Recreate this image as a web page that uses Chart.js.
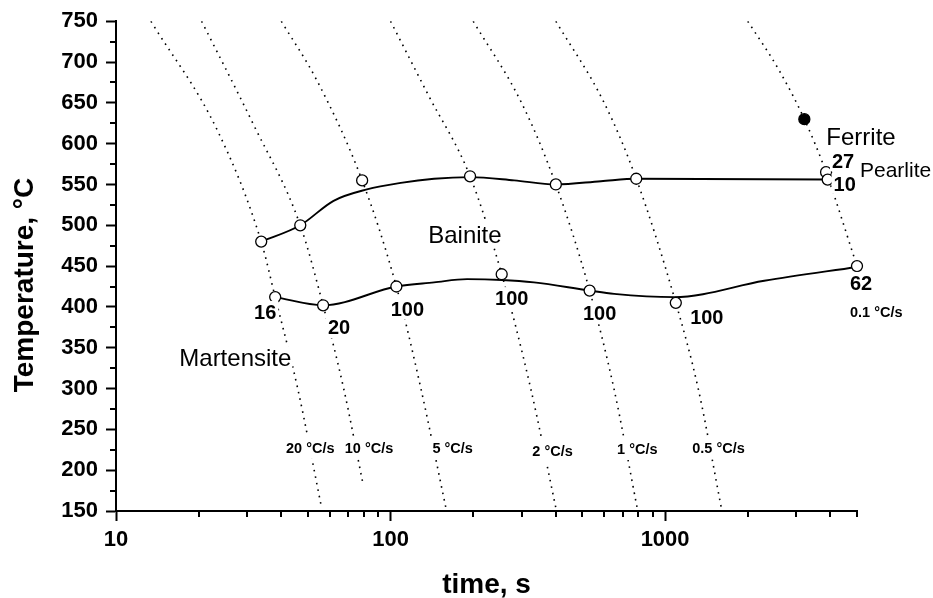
<!DOCTYPE html>
<html lang="en">
<head>
<meta charset="utf-8">
<title>CCT diagram</title>
<script src="https://cdn.jsdelivr.net/npm/chart.js@4"></script>
<style>
  html,body{margin:0;padding:0;background:#fff}
</style>
</head>
<body>
<canvas id="chart" width="933" height="598"></canvas>
<script>
// transformation points: time (s) and temperature (°C)
const bsTime = [33.8, 46.9, 78.8, 194.8, 400, 785, 3910];
const bsTemp = [480, 500, 555, 560, 550, 557, 556];
const bfTime = [38, 56.8, 105, 254, 531, 1094, 5000];
const bfTemp = [412, 402, 425, 440, 420, 405, 450];
const psTime = [3858];
const psTemp = [565];
const fsTime = [3215];
const fsTemp = [630];

// numbers printed next to the points
const bfNotes = ['16', '20', '100', '100', '100', '100', '62'];
const psNotes = ['27'];
const bsEndNote = '10';

// smoothed boundaries (bainite start / finish)
const bsCurveTime = [33.8, 46.9, 62, 82, 109, 144, 195, 282, 400, 584, 790, 3910];
const bsCurveTemp = [480, 500, 530, 544, 552, 557, 559, 555, 550, 554, 557, 556];
const bfCurveTime = [38, 56.8, 105, 144, 190, 254, 333, 531, 652, 1078, 2297, 5000];
const bfCurveTemp = [412, 402, 425, 430, 434, 433, 430, 420, 416, 412, 432, 449];

// cooling curves
const coolRates = ['20 °C/s', '10 °C/s', '5 °C/s', '2 °C/s', '1 °C/s', '0.5 °C/s', '0.1 °C/s'];
const coolTimes = [
  [13.4, 23.5, 33.8, 38, 45.9, 56],
  [20.5, 31.5, 46.9, 56.8, 67.5, 79.5],
  [40, 54, 78.8, 105, 129, 158.8],
  [100, 137, 194.8, 254, 324, 400],
  [200, 300, 400, 531, 651, 790],
  [400, 600, 785, 1094, 1320, 1600],
  [2000, 2600, 3215, 3858, 5000]
];
const coolTemps = [
  [750, 615, 480, 412, 300, 155],
  [750, 625, 500, 402, 300, 182],
  [750, 677, 555, 425, 300, 155],
  [750, 660, 560, 440, 300, 154],
  [750, 650, 550, 420, 300, 155],
  [750, 650, 557, 405, 300, 155],
  [750, 690, 630, 565, 450]
];

// axis ticks
const xMajorTicks = [10, 100, 1000];
const xMinorTicks = [20, 30, 40, 50, 60, 70, 80, 90, 200, 300, 400, 500, 600, 700, 800, 900, 2000, 3000, 4000, 5000];
const yMinorTicks = [175, 225, 275, 325, 375, 425, 475, 525, 575, 625, 675, 725];

// where the text annotations sit (data coordinates)
const rateLabelAt = [[51, 227.6], [83.5, 227.6], [168.4, 227.2], [389, 223.3], [792, 226.1], [1565, 227], [5875, 394]];
const phaseLabels = [
  {text: 'Ferrite', at: [5170, 608.5], size: 24},
  {text: 'Pearlite', at: [6908, 568], size: 21},
  {text: 'Bainite', at: [186.6, 489.4], size: 24},
  {text: 'Martensite', at: [27.2, 337.6], size: 24}
];
// pixel offsets of the numbers from their points
const bfNoteOffset = [[-10, 15], [16, 22], [11, 22], [10, 24], [10, 22], [31, 14], [4, 17]];
const psNoteOffset = [[17, -11]];
const bsEndNoteOffset = [17, 4];

const FONT = '"Liberation Sans", Arial, sans-serif';
const pts = (xs, ys) => xs.map((x, i) => ({x, y: ys[i]}));

function tag(ctx, text, cx, cy, size, weight, pad) {
  ctx.font = weight + ' ' + size + 'px ' + FONT;
  const w = ctx.measureText(text).width;
  const cap = size * 0.716;
  if (pad) {
    ctx.fillStyle = '#fff';
    ctx.fillRect(cx - w / 2 - pad[0], cy - cap / 2 - pad[1], w + 2 * pad[0], cap + 2 * pad[1]);
  }
  ctx.fillStyle = '#000';
  ctx.textAlign = 'center';
  ctx.textBaseline = 'alphabetic';
  ctx.fillText(text, cx, cy + cap / 2);
}

const decor = {
  id: 'decor',
  afterDatasetsDraw(chart) {
    const {ctx, scales: {x, y}} = chart;
    ctx.save();
    const px = v => x.getPixelForValue(v), py = v => y.getPixelForValue(v);

    coolRates.forEach((r, i) => {
      const [t, T] = rateLabelAt[i];
      tag(ctx, r, px(t), py(T), 14.5, 'bold', [3, 6]);
    });
    bfNotes.forEach((n, i) => {
      tag(ctx, n, px(bfTime[i]) + bfNoteOffset[i][0], py(bfTemp[i]) + bfNoteOffset[i][1], 20, 'bold', [2, 4]);
    });
    psNotes.forEach((n, i) => {
      tag(ctx, n, px(psTime[i]) + psNoteOffset[i][0], py(psTemp[i]) + psNoteOffset[i][1], 20, 'bold', [2, 3]);
    });
    const last = bsTime.length - 1;
    tag(ctx, bsEndNote, px(bsTime[last]) + bsEndNoteOffset[0], py(bsTemp[last]) + bsEndNoteOffset[1], 20, 'bold', [2, 3]);
    phaseLabels.forEach(p => {
      tag(ctx, p.text, px(p.at[0]), py(p.at[1]), p.size, 'normal', [1, 3]);
    });
    ctx.restore();
  },
  afterDraw(chart) {
    const {ctx, scales: {x, y}, chartArea: a} = chart;
    ctx.save();
    // minor tick marks
    ctx.strokeStyle = '#000';
    ctx.lineWidth = 2;
    ctx.beginPath();
    xMinorTicks.forEach(v => {
      const p = Math.round(x.getPixelForValue(v));
      ctx.moveTo(p, a.bottom);
      ctx.lineTo(p, a.bottom + 6);
    });
    yMinorTicks.forEach(v => {
      const p = Math.round(y.getPixelForValue(v));
      ctx.moveTo(a.left, p);
      ctx.lineTo(a.left - 6, p);
    });
    ctx.stroke();

    // axis titles
    ctx.fillStyle = '#000';
    ctx.font = 'bold 28px ' + FONT;
    ctx.textAlign = 'center';
    ctx.textBaseline = 'alphabetic';
    ctx.fillText('time, s', (a.left + a.right) / 2, 593);
    ctx.translate(33, 285);
    ctx.rotate(-Math.PI / 2);
    ctx.fillText('Temperature, °C', 0, 0);
    ctx.restore();
  }
};

const dotted = coolTimes.map((ts, i) => ({
  data: pts(ts, coolTemps[i]),
  showLine: true,
  borderColor: '#000',
  borderWidth: 1.6,
  borderDash: [1.6, 5],
  pointRadius: 0,
  cubicInterpolationMode: 'monotone',
  order: 4
}));

const solid = (xs, ys) => ({
  data: pts(xs, ys),
  showLine: true,
  borderColor: '#000',
  borderWidth: 1.9,
  pointRadius: 0,
  cubicInterpolationMode: 'monotone',
  order: 3
});

const marks = (xs, ys, fill) => ({
  data: pts(xs, ys),
  showLine: false,
  pointRadius: 5.5,
  pointBorderWidth: 1.3,
  pointBorderColor: '#000',
  pointBackgroundColor: fill,
  clip: false,
  order: 1
});

new Chart(document.getElementById('chart'), {
  type: 'scatter',
  data: {
    datasets: [
      ...dotted,
      solid(bsCurveTime, bsCurveTemp),
      solid(bfCurveTime, bfCurveTemp),
      marks(bsTime, bsTemp, '#fff'),
      marks(bfTime, bfTemp, '#fff'),
      marks(psTime, psTemp, '#fff'),
      marks(fsTime, fsTemp, '#000')
    ]
  },
  options: {
    responsive: false,
    animation: false,
    layout: {padding: {top: 20, right: 76, left: 0, bottom: 0}},
    plugins: {legend: {display: false}, tooltip: {enabled: false}},
    scales: {
      x: {
        type: 'logarithmic',
        min: 10,
        max: 5000,
        afterBuildTicks(s) { s.ticks = xMajorTicks.map(v => ({value: v, major: true})); },
        afterFit(s) { s.height = 87; },
        border: {display: true, color: '#000', width: 2},
        grid: {drawOnChartArea: false, drawTicks: true, tickLength: 10, tickWidth: 2, tickColor: '#000', color: '#000'},
        ticks: {
          autoSkip: false, maxRotation: 0, padding: 6, color: '#000',
          font: {family: FONT, size: 22, weight: 'bold'},
          callback: v => String(v)
        }
      },
      y: {
        min: 150,
        max: 750,
        afterFit(s) { s.width = 116; },
        border: {display: true, color: '#000', width: 2},
        grid: {drawOnChartArea: false, drawTicks: true, tickLength: 10, tickWidth: 2, tickColor: '#000', color: '#000'},
        ticks: {
          stepSize: 50, padding: 8, color: '#000',
          font: {family: FONT, size: 22, weight: 'bold'}
        }
      }
    }
  },
  plugins: [decor]
});
</script>
</body>
</html>
